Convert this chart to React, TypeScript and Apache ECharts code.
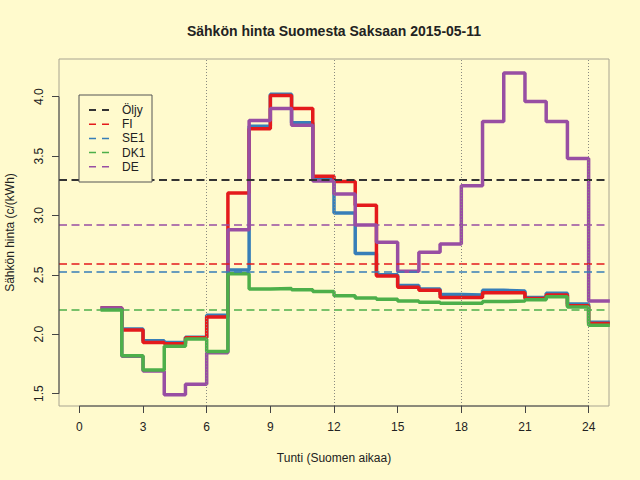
import React, { useEffect, useRef } from "react";
import * as echarts from "echarts";

// hours of the day (price for hour h is held from h to h+1)
const hours = [1, 2, 3, 4, 5, 6, 7, 8, 9, 10, 11, 12, 13, 14, 15, 16, 17, 18, 19, 20, 21, 22, 23, 24];

const fi = [2.22, 2.035, 1.93, 1.92, 1.97, 2.145, 3.19, 3.73, 4.01, 3.9, 3.33, 3.285, 3.085, 2.49, 2.395, 2.37, 2.31, 2.31, 2.35, 2.35, 2.3, 2.33, 2.24, 2.09];
const se1 = [2.22, 2.045, 1.945, 1.93, 1.975, 2.16, 2.54, 3.75, 4.02, 3.78, 3.31, 3.02, 2.68, 2.5, 2.41, 2.38, 2.335, 2.33, 2.37, 2.365, 2.31, 2.345, 2.255, 2.1];
const dk1 = [2.205, 1.82, 1.7, 1.9, 1.96, 1.855, 2.51, 2.38, 2.385, 2.375, 2.36, 2.325, 2.305, 2.295, 2.28, 2.27, 2.26, 2.26, 2.275, 2.28, 2.29, 2.315, 2.23, 2.075];
const de = [2.22, 1.815, 1.69, 1.49, 1.58, 1.845, 2.88, 3.8, 3.9, 3.76, 3.29, 3.18, 2.92, 2.775, 2.53, 2.69, 2.76, 3.25, 3.79, 4.2, 3.96, 3.79, 3.48, 2.28];

// average levels (dashed lines)
const refNames = ["Öljy", "FI", "SE1", "DK1", "DE"];
const refLevels = [3.3, 2.59, 2.53, 2.21, 2.925];

const xTicks = [0, 3, 6, 9, 12, 15, 18, 21, 24];
const yTicks = [1.5, 2.0, 2.5, 3.0, 3.5, 4.0];
const vGrid = [6, 12, 18, 24];

const X_MIN = -0.96;
const X_MAX = 24.96;
const Y_MIN = 1.396;
const Y_MAX = 4.317;

const BG = "#FFFACD";
const FONT = "'Liberation Sans', Arial, sans-serif";
const colors: Record<string, string> = {
  Öljy: "#333333",
  FI: "#E41A1C",
  SE1: "#377EB8",
  DK1: "#4DAF4A",
  DE: "#984EA3",
};

const stepData = (vals: number[]) => {
  const pts = hours.map((h, i) => [h, vals[i]]);
  pts.push([hours[hours.length - 1] + 1, vals[vals.length - 1]]);
  return pts;
};

const App: React.FC = () => {
  const chartRef = useRef<HTMLDivElement>(null);

  useEffect(() => {
    if (!chartRef.current) return;
    const myChart = echarts.init(chartRef.current, null, { renderer: "svg" });

    const stepSeries = [
      { name: "SE1", vals: se1 },
      { name: "FI", vals: fi },
      { name: "DE", vals: de },
      { name: "DK1", vals: dk1 },
    ].map((s) => ({
      name: s.name,
      type: "line",
      step: "end",
      symbol: "none",
      data: stepData(s.vals),
      lineStyle: { color: colors[s.name], width: 3.5 },
      itemStyle: { color: colors[s.name] },
      z: 3,
    }));

    const refSeries = refNames.map((n, i) => ({
      name: n + "-avg",
      type: "line",
      data: [],
      silent: true,
      markLine: {
        silent: true,
        symbol: "none",
        label: { show: false },
        lineStyle: {
          color: colors[n],
          width: n === "Öljy" ? 1.8 : 1.5,
          type: [8, 4.5],
        },
        data: [{ yAxis: refLevels[i] }],
      },
      z: 4,
    }));

    const gridSeries = {
      name: "grid",
      type: "line",
      data: [],
      silent: true,
      markLine: {
        silent: true,
        symbol: "none",
        label: { show: false },
        lineStyle: { color: "#8a8a80", width: 1, type: [1, 2] },
        data: vGrid.map((v) => ({ xAxis: v })),
      },
      z: 2,
    };

    // dark axis segments spanning the tick range (R style)
    const axisSeries = [
      {
        name: "yaxis",
        type: "line",
        symbol: "none",
        clip: false,
        silent: true,
        data: [
          [X_MIN, yTicks[0]],
          [X_MIN, yTicks[yTicks.length - 1]],
        ],
        lineStyle: { color: "#444", width: 1 },
        z: 5,
      },
      {
        name: "xaxis",
        type: "line",
        symbol: "none",
        clip: false,
        silent: true,
        data: [
          [xTicks[0], Y_MIN],
          [xTicks[xTicks.length - 1], Y_MIN],
        ],
        lineStyle: { color: "#444", width: 1 },
        z: 5,
      },
    ];

    const legendX = 79;
    const legendY = 95;
    const legendItems: any[] = [
      {
        type: "rect",
        shape: { x: legendX, y: legendY, width: 73, height: 87 },
        style: { fill: BG, stroke: "#555", lineWidth: 1 },
        z: 10,
      },
    ];
    refNames.forEach((n, i) => {
      const cy = 110 + i * 14.2;
      legendItems.push({
        type: "line",
        shape: { x1: 89, y1: cy, x2: 109, y2: cy },
        style: { stroke: colors[n], lineWidth: n === "Öljy" ? 1.8 : 1.5, lineDash: [7, 6] },
        z: 11,
      });
      legendItems.push({
        type: "text",
        x: 122,
        y: cy,
        style: {
          text: n,
          fill: "#222",
          font: `12px ${FONT}`,
          textAlign: "left",
          textVerticalAlign: "middle",
        },
        z: 11,
      });
    });

    const option: any = {
      animation: false,
      backgroundColor: BG,
      graphic: [
        {
          type: "text",
          x: 334,
          y: 31,
          style: {
            text: "Sähkön hinta Suomesta Saksaan 2015-05-11",
            fill: "#222",
            font: `bold 14px ${FONT}`,
            textAlign: "center",
            textVerticalAlign: "middle",
          },
        },
        ...legendItems,
      ],
      grid: {
        left: 59,
        right: 31,
        top: 59,
        bottom: 74,
        show: true,
        borderColor: "#a8a491",
        borderWidth: 1,
        backgroundColor: "transparent",
        containLabel: false,
        outerBoundsMode: "none",
      },
      xAxis: {
        type: "value",
        min: X_MIN,
        max: X_MAX,
        name: "Tunti (Suomen aikaa)",
        nameLocation: "middle",
        nameGap: 46,
        nameTextStyle: { color: "#222", fontSize: 12, fontFamily: FONT },
        axisLine: { show: false, onZero: false },
        splitLine: { show: false },
        axisTick: {
          show: true,
          customValues: xTicks,
          length: 7,
          lineStyle: { color: "#444" },
        },
        axisLabel: {
          customValues: xTicks,
          color: "#222",
          fontSize: 12,
          fontFamily: FONT,
          margin: 15,
        },
      },
      yAxis: {
        type: "value",
        min: Y_MIN,
        max: Y_MAX,
        name: "Sähkön hinta (c/(kWh)",
        nameLocation: "middle",
        nameGap: 43,
        nameTextStyle: { color: "#222", fontSize: 12, fontFamily: FONT },
        axisLine: { show: false, onZero: false },
        splitLine: { show: false },
        axisTick: {
          show: true,
          customValues: yTicks,
          length: 7,
          lineStyle: { color: "#444" },
        },
        axisLabel: {
          customValues: yTicks,
          color: "#222",
          fontSize: 12,
          fontFamily: FONT,
          rotate: 90,
          margin: 14,
          formatter: (v: number) => v.toFixed(1),
        },
      },
      series: [...stepSeries, ...refSeries, gridSeries, ...axisSeries],
    };

    myChart.setOption(option);
    return () => {
      myChart.dispose();
    };
  }, []);

  return (
    <div
      ref={chartRef}
      style={{ position: "absolute", left: 0, top: 0, width: 640, height: 480 }}
    />
  );
};

export default App;
